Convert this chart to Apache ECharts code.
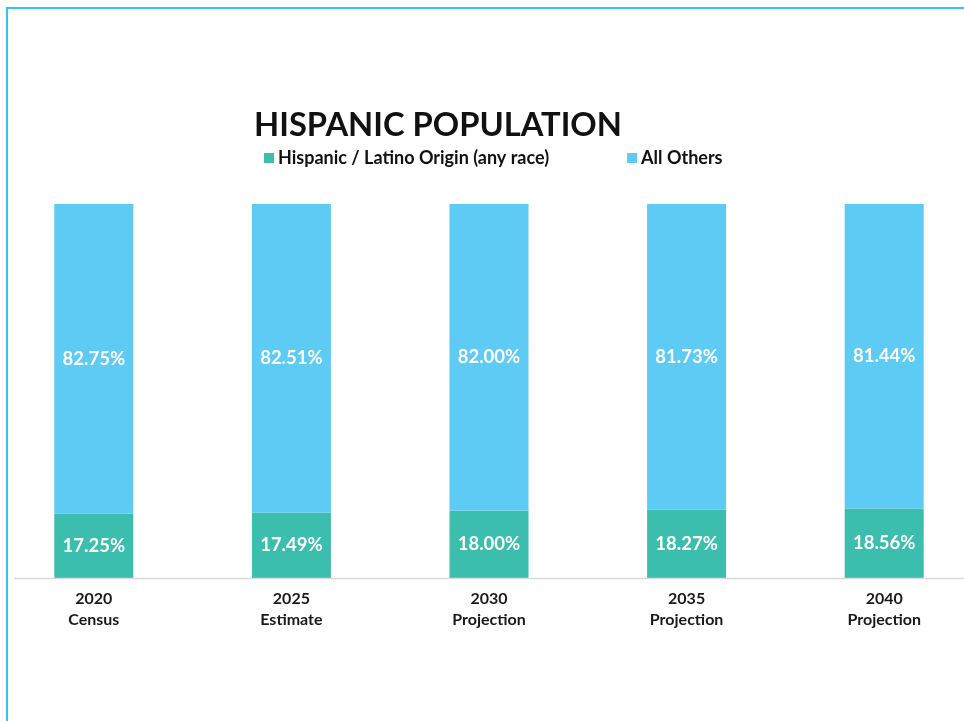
<!DOCTYPE html>
<html>
<head>
<meta charset="utf-8">
<script src="https://cdn.jsdelivr.net/npm/echarts@6/dist/echarts.min.js"></script>
<style>
html,body{margin:0;padding:0;background:#fff;overflow:hidden;}
#frame{position:absolute;left:6px;top:7px;width:1000px;height:800px;border-top:2px solid #2ec4f5;border-left:2px solid #2ec4f5;}
#chart{position:absolute;left:-5px;top:0;width:988px;height:721px;}
</style>
</head>
<body>
<div id="frame"></div>
<div id="chart"></div>
<script>
const categories = ['2020\nCensus', '2025\nEstimate', '2030\nProjection', '2035\nProjection', '2040\nProjection'];
const hispanic = [17.25, 17.49, 18.00, 18.27, 18.56];
const others = [82.75, 82.51, 82.00, 81.73, 81.44];
const seriesNames = ['Hispanic / Latino Origin (any race)', 'All Others'];

const chart = echarts.init(document.getElementById('chart'), null, {renderer: 'canvas'});
const labelStyle = {
  show: true,
  position: 'inside',
  color: '#ffffff',
  fontFamily: 'Lato',
  fontWeight: 'bold',
  fontSize: 18.5,
  formatter: p => p.value.toFixed(2) + '%'
};
chart.setOption({
  animation: false,
  textStyle: {fontFamily: 'Lato'},
  title: {
    text: 'HISPANIC POPULATION',
    left: 254,
    top: 104,
    textStyle: {fontFamily: 'Lato', fontWeight: 'bold', fontSize: 32.7, color: '#111111'}
  },
  legend: {
    left: 264,
    top: 144,
    itemWidth: 10,
    itemHeight: 10,
    itemGap: 78,
    icon: 'rect',
    data: seriesNames,
    textStyle: {fontFamily: 'Lato', fontWeight: 'bold', fontSize: 18, color: '#111111', padding: [0, 0, 0, -1]}
  },
  grid: {left: 0, right: 0, top: 204, bottom: 143, containLabel: false},
  xAxis: {
    type: 'category',
    data: categories,
    axisLine: {show: false},
    axisTick: {show: false},
    axisLabel: {
      fontFamily: 'Lato', fontWeight: 'bold', fontSize: 16, color: '#1a1a1a',
      lineHeight: 21, margin: 10
    }
  },
  yAxis: {
    type: 'value', min: 0, max: 100, show: false
  },
  series: [
    {
      name: seriesNames[0], type: 'bar', stack: 'total', data: hispanic,
      barWidth: 79, itemStyle: {color: '#3bbead'}, label: labelStyle
    },
    {
      name: seriesNames[1], type: 'bar', stack: 'total', data: others,
      barWidth: 79, itemStyle: {color: '#5ecbf4'}, label: labelStyle
    }
  ],
  graphic: [{
    type: 'line',
    shape: {x1: 19, y1: 578.5, x2: 988, y2: 578.5},
    style: {stroke: '#d9d9d9', lineWidth: 1.5},
    z: 10
  }]
});
</script>
</body>
</html>
